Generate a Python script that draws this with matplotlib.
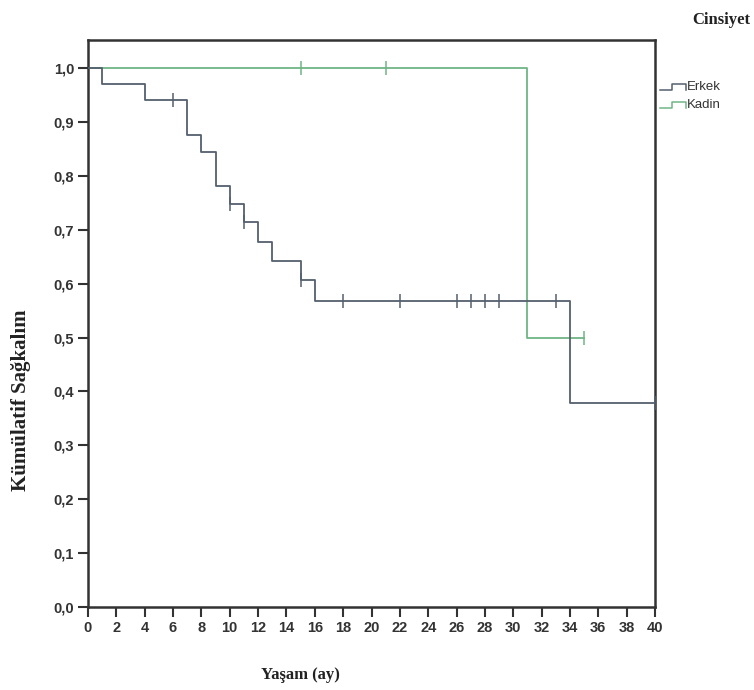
import numpy as np
import matplotlib
matplotlib.use("Agg")
import matplotlib.pyplot as plt
from matplotlib.lines import Line2D

# Kaplan-Meier step values by gender
erkek_t = [0, 1, 4, 7, 8, 9, 10, 11, 12, 13, 15, 16, 34, 40]
erkek_s = [1.0, 0.970, 0.940, 0.876, 0.844, 0.781, 0.748, 0.714, 0.677, 0.642, 0.606, 0.568, 0.378, 0.378]
erkek_censor = [6, 10, 11, 15, 18, 22, 26, 27, 28, 29, 33, 40]

kadin_t = [0, 31, 35]
kadin_s = [1.0, 0.5, 0.5]
kadin_censor = [15, 21, 35]

x_ticks = list(range(0, 41, 2))
y_ticks = [i / 10 for i in range(11)]
y_labels = ["%.1f" % v for v in y_ticks]
y_labels = [s.replace(".", ",") for s in y_labels]

c_erkek = "#55606e"
c_kadin = "#6fb585"


def step_value(t, times, surv):
    idx = np.searchsorted(times, t, side="right") - 1
    return surv[idx]


fig = plt.figure(figsize=(7.54, 6.9), dpi=100)
ax = fig.add_axes([88 / 754, 1 - 607 / 690, 567 / 754, 567 / 690])

ax.step(kadin_t, kadin_s, where="post", color=c_kadin, lw=1.3, zorder=2)
ax.step(erkek_t, erkek_s, where="post", color=c_erkek, lw=1.3, zorder=3)

ax.plot(kadin_censor, [step_value(t, kadin_t, kadin_s) for t in kadin_censor],
        ls="none", marker="|", ms=10, mew=1.1, color=c_kadin, zorder=2)
ax.plot(erkek_censor, [step_value(t, erkek_t, erkek_s) for t in erkek_censor],
        ls="none", marker="|", ms=10, mew=1.1, color=c_erkek, zorder=3)

ax.set_xlim(0, 40)
ax.set_ylim(0, 1.052)
ax.set_xticks(x_ticks)
ax.set_yticks(y_ticks)
ax.set_yticklabels(y_labels)

for sp in ax.spines.values():
    sp.set_linewidth(1.8)
    sp.set_color("#333333")

tick_font = dict(family=["Liberation Sans Narrow", "Liberation Sans", "DejaVu Sans"],
                 weight="bold", size=10.5)
ax.tick_params(direction="out", length=7, width=1.5, color="#333333",
               labelcolor="#333333", pad=3)
for lab in ax.get_xticklabels() + ax.get_yticklabels():
    lab.set_fontproperties(matplotlib.font_manager.FontProperties(**tick_font))

serif = ["Liberation Serif", "DejaVu Serif"]
ax.set_xlabel("Yaşam (ay)", family=serif, weight="bold", size=12, color="#222222")
ax.xaxis.set_label_coords(0.374, -0.105)
ax.set_ylabel("Kümülatif Sağkalım", family=serif, weight="bold", size=15, color="#222222")
ax.yaxis.set_label_coords(-0.10, 0.365)

fig.text(0.995, 0.982, "Cinsiyet", family=serif, weight="bold", size=12,
         ha="right", va="top", color="#222222")

# step-shaped legend keys
for y_px, col, name in [(87, c_erkek, "Erkek"), (105, c_kadin, "Kadin")]:
    y0 = 1 - (y_px + 3) / 690
    y1 = 1 - (y_px - 3) / 690
    xs = np.array([660, 672, 672, 686, 686]) / 754
    ys = [y0, y0, y1, y1, y0]
    fig.add_artist(Line2D(xs, ys, color=col, lw=1.1))
    fig.text(687 / 754, 1 - y_px / 690, name, family=["Liberation Sans", "DejaVu Sans"],
             size=9.5, ha="left", va="center", color="#333333")

fig.savefig("out.png", dpi=100)
